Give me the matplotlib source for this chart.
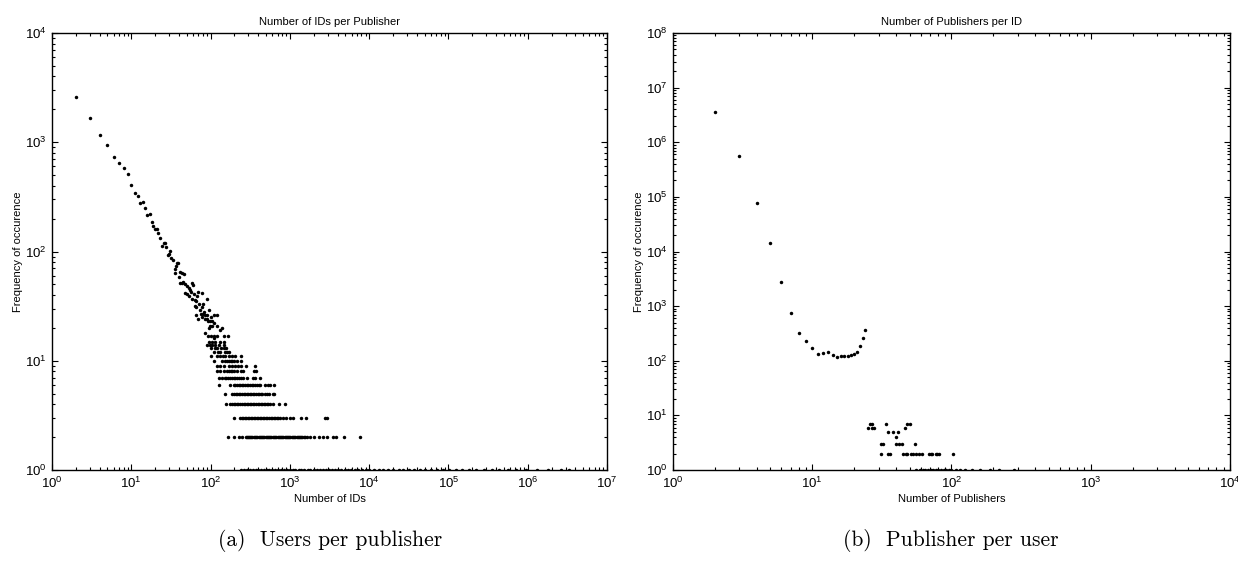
import matplotlib
matplotlib.use("Agg")
import matplotlib.pyplot as plt
from matplotlib.ticker import LogLocator, NullFormatter

plt.rcParams['font.family'] = ['Liberation Sans', 'DejaVu Sans']
plt.rcParams['mathtext.default'] = 'regular'

# ---- (a) number of IDs per publisher ----
# roughly continuous head of the distribution
ids_x = [2, 3, 4, 5, 6, 7, 8, 9, 10, 11, 12, 13, 14, 15, 16, 17, 18, 19, 20, 21, 22, 23,
         24.7, 25.7, 26.8, 27.8, 30.6, 28.9, 30, 32.1, 33.4, 37.9, 39, 36.4, 35.7, 35.1,
         41.7, 44.2, 45.9, 40.2, 43, 41.4, 45.1, 48.2, 50.7, 53.1, 58.6, 59.7, 54.7, 57.4,
         47.8, 50.7, 61.4, 69, 79, 53, 58, 67.8, 63, 66, 89, 72, 81, 63, 66, 77, 73, 96,
         82, 75, 66, 80, 86, 91, 110, 119, 77, 84, 100, 69, 89, 92, 98, 105, 110, 119, 140,
         98, 105, 95, 133, 86, 100, 110, 119, 147, 167, 112, 93]
ids_y = [2580, 1680, 1170, 940, 730, 650, 585, 515, 408, 346, 320, 280, 285, 248, 217, 219,
         188, 170, 161, 160, 148, 134, 112, 119, 120, 111, 102, 92, 94, 87, 84, 78, 79, 73,
         69, 64, 65, 63, 62, 58, 52, 51, 53, 50, 48, 46, 52, 49, 44, 43, 42, 41, 41, 43, 42,
         39, 37, 39, 36, 35, 37, 33, 33, 32, 31, 31, 29, 29, 28, 27, 26, 27, 26, 26, 26, 26,
         25, 24, 25, 24, 24, 23, 23, 23, 22, 21, 20, 21, 21, 20, 19, 18, 17, 17, 17, 17, 17,
         16, 17]

# discrete tail: x values found at each small frequency
band_15 = [95, 104, 115, 133, 147]
band_14 = [91, 98, 104, 115, 127, 147]
band_13 = [100, 113, 121, 136, 147, 157]
band_12 = [110, 124, 133, 150, 161, 170]
band_11 = [100, 121, 130, 144, 153, 170, 187, 206, 240]
band_10 = [110, 140, 153, 161, 170, 180, 187, 196, 215, 240]
band_9 = [121, 133, 147, 170, 187, 206, 222, 240, 276, 362]
band_8 = [121, 130, 147, 161, 170, 180, 187, 196, 215, 240, 260, 348, 374]
band_7 = [127, 140, 150, 158, 165, 175, 187, 196, 206, 215, 228, 240, 260, 290, 343, 368, 415]
band_6 = [127, 175, 196, 206, 214, 226, 235, 249, 258, 273, 284, 299, 311, 334, 347, 366,
          384, 406, 425, 480, 530, 570, 630]
band_5 = [153, 187, 196, 207, 214, 226, 237, 247, 261, 271, 286, 297, 313, 326, 343, 357,
          376, 391, 411, 427, 449, 490, 520, 545, 608, 630]
band_4 = [157, 178, 189, 196, 205, 216, 224, 237, 247, 261, 271, 286, 297, 313, 326, 343,
          357, 376, 391, 411, 427, 449, 467, 491, 511, 536, 570, 608, 720, 860]
band_3 = [196, 233, 246, 255, 269, 279, 294, 305, 321, 334, 351, 365, 384, 399, 419, 436,
          458, 477, 501, 522, 548, 571, 599, 624, 655, 683, 716, 760, 830, 900, 1000, 1100,
          1370, 1620, 2800, 2900]
band_2 = [167, 200, 231, 250, 276, 286, 294, 306, 315, 328, 337, 351, 361, 376, 387, 403,
          415, 431, 444, 462, 476, 495, 510, 530, 547, 568, 586, 609, 628, 652, 673, 699, 721,
          749, 773, 802, 828, 859, 887, 921, 951, 986, 1019, 1057, 1092, 1131, 1169, 1213,
          1254, 1301, 1344, 1393, 1439, 1491, 1550, 1652, 1800, 2004, 2300, 2600, 2950, 3550,
          3870, 4790, 7600]
band_1 = [240, 262, 290, 318, 340, 372, 398, 431, 470, 512, 548, 603, 651, 708, 772, 835,
          912, 990, 1080, 1172, 1290, 1395, 1530, 1670, 1820, 1990, 2170, 2380, 2590, 2840,
          3100, 3410, 3720, 4100, 4480, 4950, 5400, 5980, 6600, 7300, 8100, 9000, 10100,
          11500, 13200, 15100, 17400, 20100, 23500, 27000, 31800, 37000, 43500, 51000,
          60500, 72000, 86000, 103000, 125000, 150000, 182000, 225000, 280000, 350000,
          440000, 560000, 720000, 950000, 1300000, 1800000, 2600000, 3300000]
bands_a = {15: band_15, 14: band_14, 13: band_13, 12: band_12, 11: band_11, 10: band_10,
           9: band_9, 8: band_8, 7: band_7, 6: band_6, 5: band_5, 4: band_4, 3: band_3,
           2: band_2, 1: band_1}

# ---- (b) number of publishers per ID ----
pub_x = [2, 3, 4, 5, 6, 7, 8, 9, 10, 11, 12, 13, 14, 15, 16, 17, 18, 19, 20, 21, 22, 23, 24]
pub_y = [3.56e6, 5.56e5, 7.77e4, 1.42e4, 2.8e3, 740, 323, 228, 172, 132, 137, 143, 126,
         117, 121, 122, 124, 128, 133, 143, 187, 262, 372]
pband_7 = [26, 27, 34, 48, 50]
pband_6 = [25, 27, 28, 46]
pband_5 = [35, 38, 41]
pband_4 = [40]
pband_3 = [31, 32, 40, 42, 44, 55]
pband_2 = [31, 35, 36, 45, 47, 48, 51, 53, 56, 58, 61, 69, 71, 73, 77, 79, 82, 103]
pband_1 = [56, 59, 62, 65, 68, 71, 74, 77, 80, 84, 88, 92, 96, 100, 108, 115, 125, 140,
           160, 190, 220, 280]
bands_b = {7: pband_7, 6: pband_6, 5: pband_5, 4: pband_4, 3: pband_3, 2: pband_2,
           1: pband_1}


def dots(ax, x, y):
    ax.plot(x, y, 'o', color='k', ms=2.5, mew=0)


def style(ax, title, xlabel, xlim, ylim):
    ax.set_xscale('log')
    ax.set_yscale('log')
    ax.set_xlim(xlim)
    ax.set_ylim(ylim)
    for a in (ax.xaxis, ax.yaxis):
        a.set_major_locator(LogLocator(base=10, numticks=20))
        a.set_minor_locator(LogLocator(base=10, subs=range(2, 10), numticks=20))
        a.set_minor_formatter(NullFormatter())
    ax.tick_params(which='both', direction='in', top=True, right=True, width=0.8,
                   labelsize=9.5, pad=4)
    ax.tick_params(which='major', length=4.5)
    ax.tick_params(which='minor', length=2.3)
    for s in ax.spines.values():
        s.set_linewidth(1.0)
    ax.set_title(title, fontsize=8, pad=6)
    ax.set_xlabel(xlabel, fontsize=8, labelpad=2)
    ax.set_ylabel('Frequency of occurence', fontsize=8, labelpad=1)


fig = plt.figure(figsize=(12.38, 5.65), dpi=100)
ax1 = fig.add_axes([0.042, 0.1681, 0.4483, 0.7735])
ax2 = fig.add_axes([0.5436, 0.1681, 0.4499, 0.7735])

dots(ax1, ids_x, ids_y)
for f, xs in bands_a.items():
    dots(ax1, xs, [f] * len(xs))
style(ax1, 'Number of IDs per Publisher', 'Number of IDs', (1, 1e7), (1, 1e4))

dots(ax2, pub_x, pub_y)
for f, xs in bands_b.items():
    dots(ax2, xs, [f] * len(xs))
style(ax2, 'Number of Publishers per ID', 'Number of Publishers', (1, 1e4), (1, 1e8))

fig.text(0.2666, 0.044, '(a)  Users per publisher', ha='center', va='center',
         fontsize=15.5, family='cmr10')
fig.text(0.768, 0.044, '(b)  Publisher per user', ha='center', va='center',
         fontsize=15.5, family='cmr10')

fig.savefig('out.png', dpi=100)
